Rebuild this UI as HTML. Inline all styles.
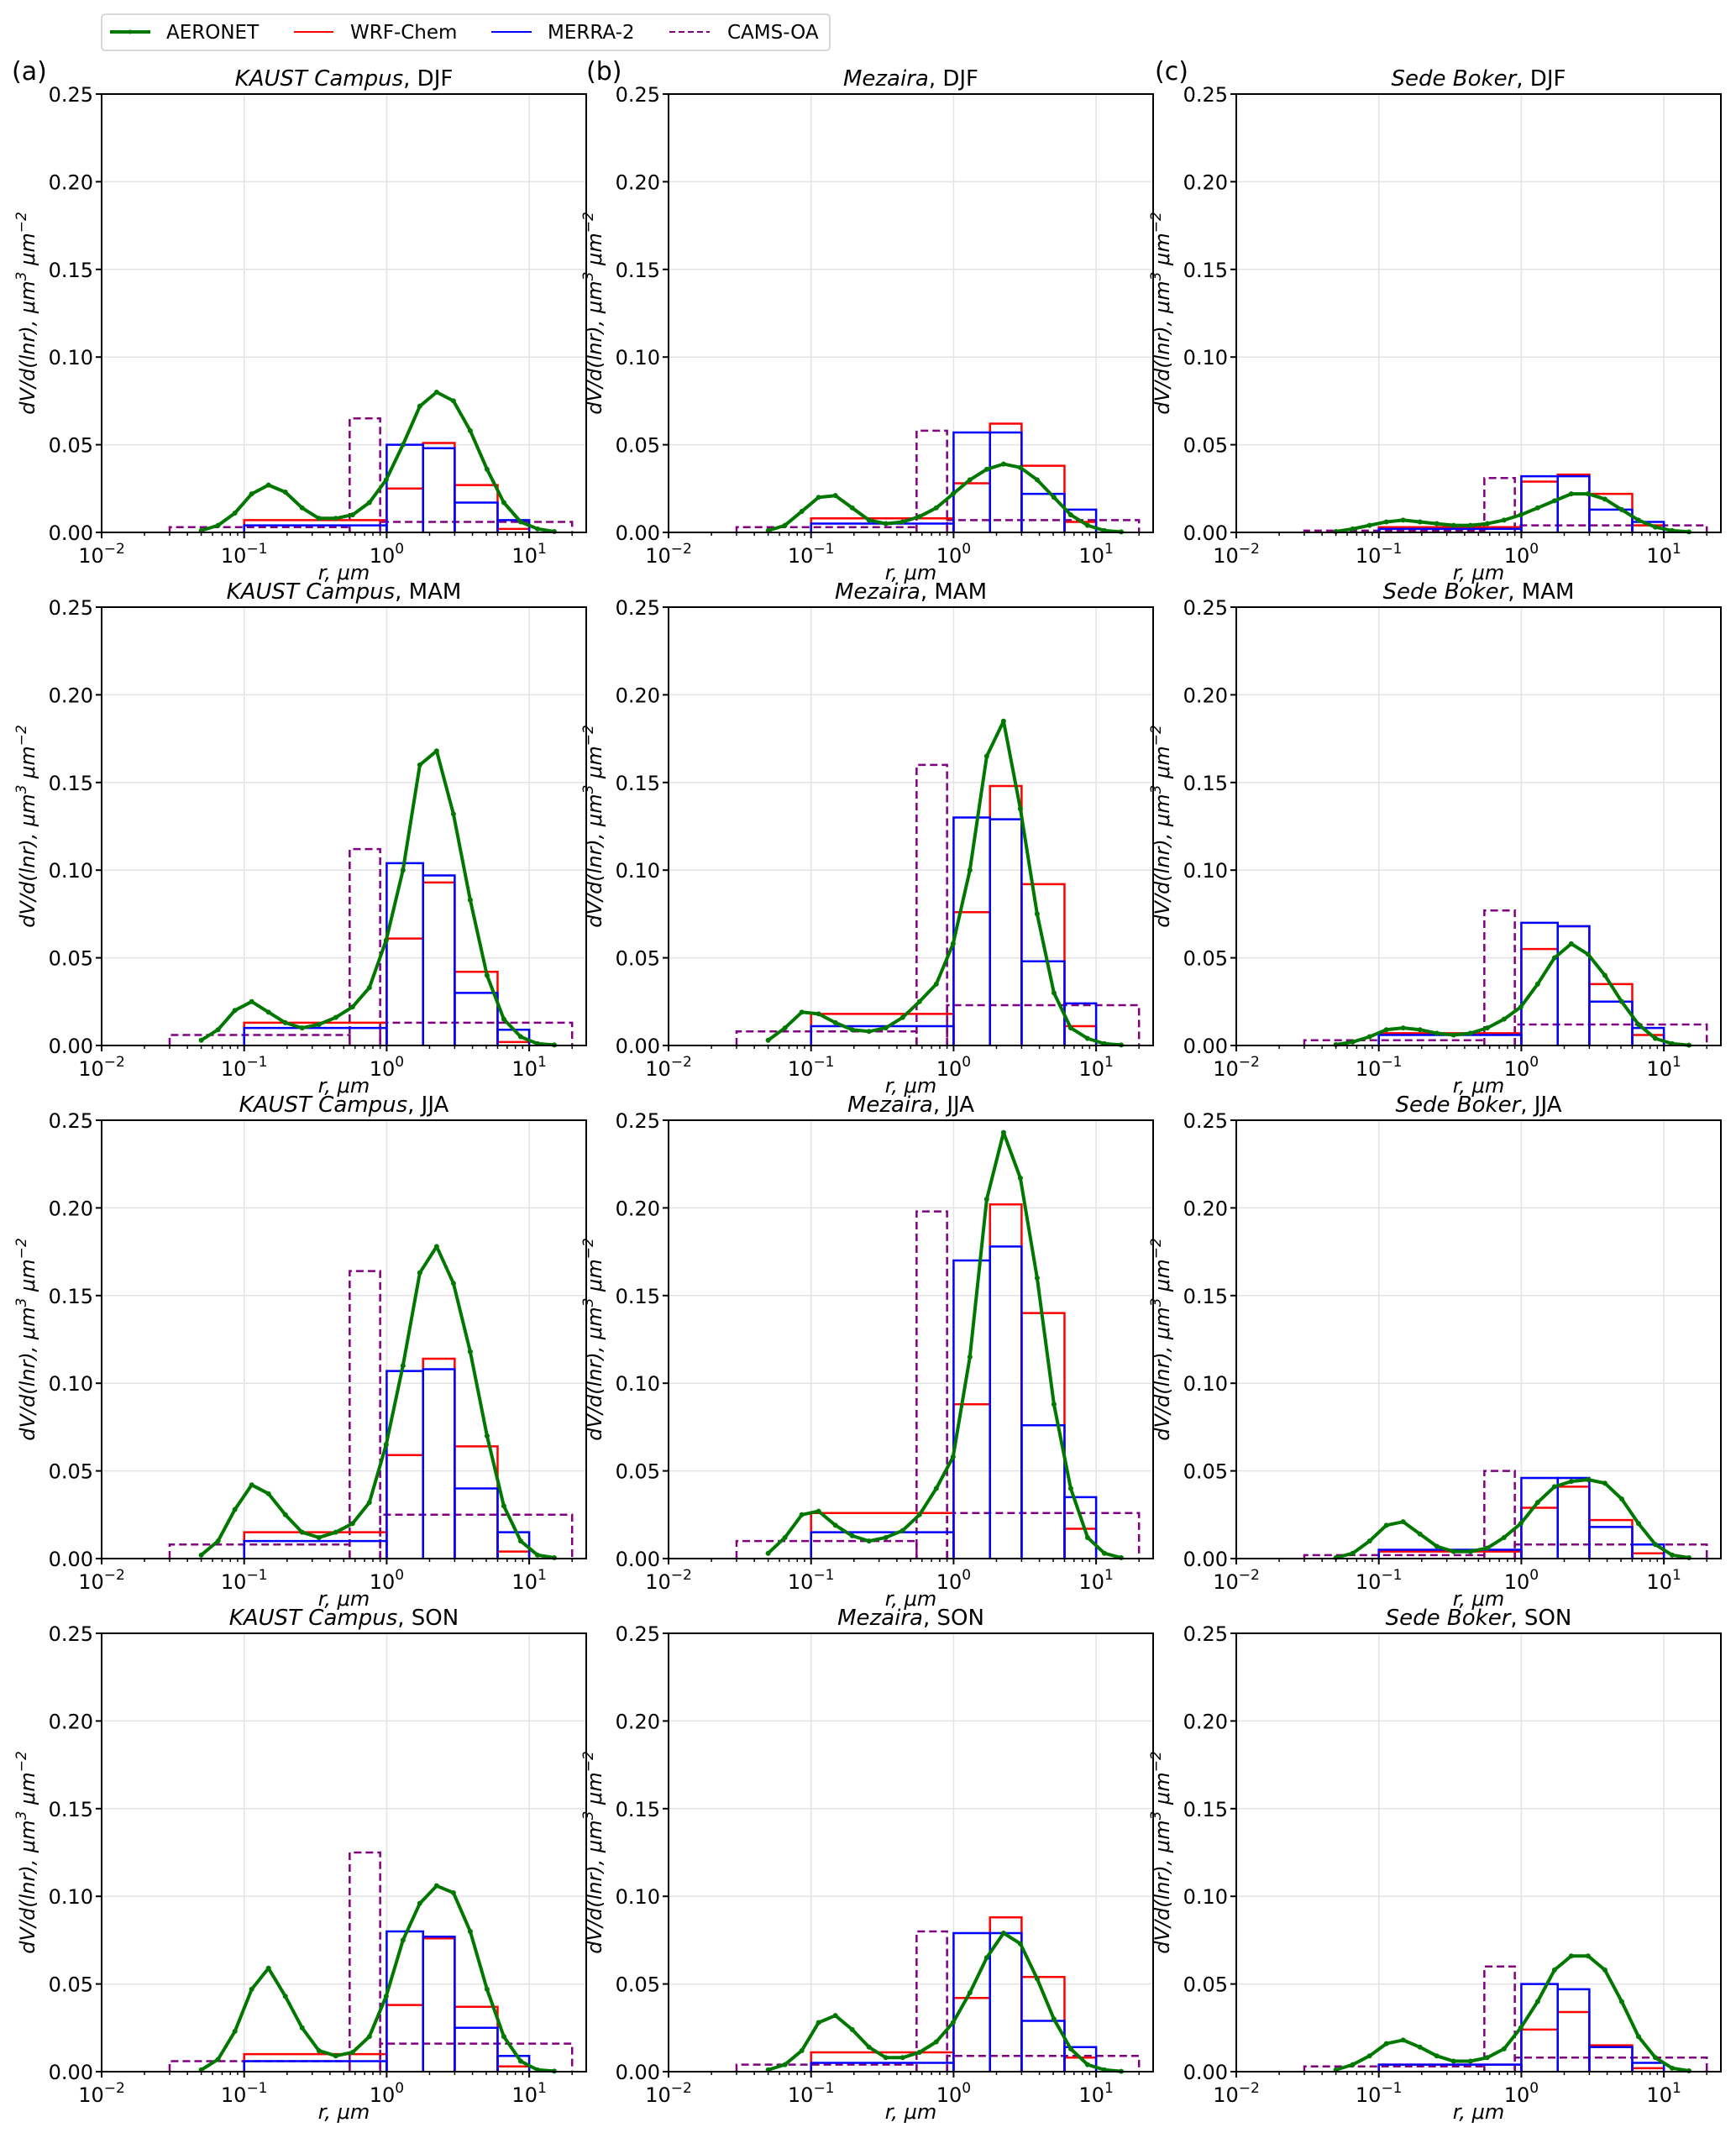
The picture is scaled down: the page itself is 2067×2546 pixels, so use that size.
<!DOCTYPE html>
<html><head><meta charset="utf-8"><style>
html,body{margin:0;padding:0;background:#fff;}
svg{display:block;font-family:"DejaVu Sans","Liberation Sans",sans-serif;}
</style></head><body>
<svg id="fig" width="2067" height="2546" viewBox="0 0 2067 2546" xmlns="http://www.w3.org/2000/svg">
<g>
<rect x="121" y="17" width="867" height="43" rx="4" fill="#fff" stroke="#ccc" stroke-width="1.5"/>
<line x1="131" y1="38" x2="179" y2="38" stroke="#007800" stroke-width="4"/>
<circle cx="155" cy="38" r="2.5" fill="#007800"/>
<text x="198" y="46" font-size="23">AERONET</text>
<line x1="350" y1="38" x2="397" y2="38" stroke="#ff0000" stroke-width="2"/>
<text x="417" y="46" font-size="23">WRF-Chem</text>
<line x1="585" y1="38" x2="633" y2="38" stroke="#0000ff" stroke-width="2"/>
<text x="652" y="46" font-size="23">MERRA-2</text>
<line x1="797" y1="38" x2="845" y2="38" stroke="#800080" stroke-width="2" stroke-dasharray="7,4"/>
<text x="866" y="46" font-size="23">CAMS-OA</text>
</g>
<text x="14" y="95" font-size="30">(a)</text>
<text x="698" y="95" font-size="30">(b)</text>
<text x="1375" y="95" font-size="30">(c)</text>
</svg>
<script>
// ---- data ----
const sites = ["KAUST Campus", "Mezaira", "Sede Boker"];
const seasons = ["DJF", "MAM", "JJA", "SON"];
const aeronetRadii = [0.05,0.065604,0.086077,0.112939,0.148184,0.194429,0.255105,0.334716,0.439173,0.576227,0.756052,0.991996,1.301571,1.707757,2.240702,2.939966,3.857452,5.06126,6.640745,8.713145,11.432287,15.0];
const modelBinEdges = [0.1, 1.0, 1.8, 3.0, 6.0, 10.0];
const camsBinEdges = [0.03, 0.55, 0.9, 20.0];
const yTicks = [0, 0.05, 0.10, 0.15, 0.20, 0.25];
const yTickLabels = ["0.00","0.05","0.10","0.15","0.20","0.25"];
const xTickExps = [-2, -1, 0, 1];
// AERONET series [season][site]
const aeronet = [
 [[0.001,0.004,0.011,0.022,0.027,0.023,0.014,0.008,0.008,0.010,0.017,0.030,0.050,0.072,0.080,0.075,0.058,0.036,0.017,0.006,0.002,0.0005],
  [0.001,0.004,0.012,0.020,0.021,0.014,0.007,0.005,0.006,0.009,0.014,0.022,0.030,0.036,0.039,0.037,0.030,0.020,0.010,0.004,0.001,0.0003],
  [0.0005,0.002,0.004,0.006,0.007,0.006,0.005,0.004,0.004,0.005,0.007,0.010,0.014,0.018,0.022,0.022,0.019,0.013,0.007,0.003,0.001,0.0003]],
 [[0.003,0.009,0.020,0.025,0.019,0.013,0.010,0.012,0.016,0.022,0.033,0.060,0.100,0.160,0.168,0.132,0.083,0.040,0.015,0.005,0.001,0.0003],
  [0.003,0.010,0.019,0.018,0.013,0.009,0.008,0.010,0.016,0.025,0.035,0.058,0.100,0.165,0.185,0.135,0.075,0.030,0.010,0.004,0.001,0.0003],
  [0.0005,0.002,0.005,0.009,0.010,0.009,0.007,0.006,0.007,0.010,0.015,0.022,0.035,0.050,0.058,0.052,0.040,0.025,0.012,0.004,0.001,0.0002]],
 [[0.002,0.010,0.028,0.042,0.037,0.025,0.015,0.012,0.015,0.020,0.032,0.065,0.110,0.163,0.178,0.157,0.118,0.070,0.030,0.010,0.002,0.0005],
  [0.003,0.012,0.025,0.027,0.019,0.013,0.010,0.012,0.016,0.025,0.040,0.058,0.115,0.205,0.243,0.217,0.160,0.088,0.040,0.012,0.003,0.0005],
  [0.0005,0.003,0.010,0.019,0.021,0.014,0.007,0.004,0.004,0.006,0.012,0.020,0.032,0.041,0.044,0.045,0.043,0.034,0.020,0.008,0.002,0.0005]],
 [[0.001,0.007,0.023,0.047,0.059,0.043,0.025,0.012,0.009,0.011,0.020,0.043,0.075,0.096,0.106,0.102,0.080,0.047,0.020,0.006,0.001,0.0003],
  [0.001,0.004,0.012,0.028,0.032,0.024,0.014,0.008,0.008,0.011,0.017,0.028,0.045,0.065,0.079,0.073,0.053,0.030,0.013,0.004,0.001,0.0002],
  [0.001,0.004,0.009,0.016,0.018,0.014,0.009,0.006,0.006,0.008,0.013,0.025,0.040,0.058,0.066,0.066,0.058,0.040,0.020,0.008,0.002,0.0005]]
];
const wrf = [
 [[0.007,0.025,0.051,0.027,0.002],[0.008,0.028,0.062,0.038,0.006],[0.003,0.029,0.033,0.022,0.004]],
 [[0.013,0.061,0.093,0.042,0.002],[0.018,0.076,0.148,0.092,0.011],[0.007,0.055,0.068,0.035,0.006]],
 [[0.015,0.059,0.114,0.064,0.004],[0.026,0.088,0.202,0.140,0.017],[0.004,0.029,0.041,0.022,0.003]],
 [[0.010,0.038,0.076,0.037,0.003],[0.011,0.042,0.088,0.054,0.008],[0.004,0.024,0.034,0.015,0.002]]
];
const merra = [
 [[0.004,0.050,0.048,0.017,0.007],[0.005,0.057,0.057,0.022,0.013],[0.002,0.032,0.032,0.013,0.006]],
 [[0.010,0.104,0.097,0.030,0.009],[0.011,0.130,0.129,0.048,0.024],[0.006,0.070,0.068,0.025,0.010]],
 [[0.010,0.107,0.108,0.040,0.015],[0.015,0.170,0.178,0.076,0.035],[0.005,0.046,0.046,0.018,0.008]],
 [[0.006,0.080,0.077,0.025,0.009],[0.005,0.079,0.079,0.029,0.014],[0.004,0.050,0.047,0.014,0.005]]
];
const cams = [
 [[0.003,0.065,0.006],[0.003,0.058,0.007],[0.001,0.031,0.004]],
 [[0.006,0.112,0.013],[0.008,0.160,0.023],[0.003,0.077,0.012]],
 [[0.008,0.164,0.025],[0.010,0.198,0.026],[0.002,0.050,0.008]],
 [[0.006,0.125,0.016],[0.004,0.080,0.009],[0.003,0.060,0.008]]
];

const NS = "http://www.w3.org/2000/svg";
const svg = document.getElementById("fig");
const colLeft = [121, 796, 1472];
const rowTop0 = 112, rowPitch = 611, plotW = 577, plotH = 522;
const logMin = -2, logMax = 1.4;

function mk(tag, attrs, parent) {
  const e = document.createElementNS(NS, tag);
  for (const k in attrs) e.setAttribute(k, attrs[k]);
  parent.appendChild(e);
  return e;
}

for (let s = 0; s < 4; s++) {
  for (let c = 0; c < 3; c++) {
    const L = colLeft[c], T = rowTop0 + s * rowPitch, B = T + plotH, R = L + plotW;
    const xs = v => L + (Math.log10(v) - logMin) / (logMax - logMin) * plotW;
    const ys = v => B - v / 0.25 * plotH;
    const tag = sites[c].split(" ")[0].toLowerCase() + "-" + seasons[s].toLowerCase();
    const g = mk("g", {}, svg);
    
    
    for (const e of xTickExps) {
      const gl = mk("line", {x1: xs(Math.pow(10, e)), x2: xs(Math.pow(10, e)), y1: T, y2: B, stroke: "#e3e3e3", "stroke-width": 1.5}, g);
      
      
    }
    for (const v of yTicks) {
      const gl = mk("line", {x1: L, x2: R, y1: ys(v), y2: ys(v), stroke: "#e3e3e3", "stroke-width": 1.5}, g);
      
      
    }
    const camsG = mk("g", {fill: "none", stroke: "#800080", "stroke-width": 2.5, "stroke-dasharray": "9,5"}, g);
    
    
    cams[s][c].forEach((v, i) => {
      const x0 = xs(camsBinEdges[i]), x1 = xs(camsBinEdges[i + 1]);
      const p = mk("path", {d: `M${x0},${B}V${ys(v)}H${x1}V${B}`}, camsG);
      
      
    });
    const wrfG = mk("g", {fill: "none", stroke: "#ff0000", "stroke-width": 2.5}, g);
    
    
    wrf[s][c].forEach((v, i) => {
      const x0 = xs(modelBinEdges[i]), x1 = xs(modelBinEdges[i + 1]);
      const p = mk("path", {d: `M${x0},${B}V${ys(v)}H${x1}V${B}`}, wrfG);
      
      
    });
    const merG = mk("g", {fill: "none", stroke: "#0000ff", "stroke-width": 2.5}, g);
    
    
    merra[s][c].forEach((v, i) => {
      const x0 = xs(modelBinEdges[i]), x1 = xs(modelBinEdges[i + 1]);
      const p = mk("path", {d: `M${x0},${B}V${ys(v)}H${x1}V${B}`}, merG);
      
      
    });
    const pts = aeronet[s][c].map((v, i) => xs(aeronetRadii[i]).toFixed(1) + "," + ys(v).toFixed(1)).join(" ");
    const pl = mk("polyline", {points: pts, fill: "none", stroke: "#007800", "stroke-width": 4, "stroke-linejoin": "round"}, g);
    
    
    aeronet[s][c].forEach((v, i) => {
      const m = mk("circle", {cx: xs(aeronetRadii[i]), cy: ys(v), r: 3, fill: "#007800"}, g);
      
      
    });
    const fr = mk("rect", {x: L, y: T, width: plotW, height: plotH, fill: "none", stroke: "#000", "stroke-width": 2}, g);
    
    
    yTicks.forEach((v, i) => {
      const t = mk("line", {x1: L - 7, x2: L, y1: ys(v), y2: ys(v), stroke: "#000", "stroke-width": 2}, g);
      
      
      const tl = mk("text", {x: L - 10, y: ys(v) + 9, "font-size": 24, "text-anchor": "end"}, g);
      tl.textContent = yTickLabels[i];
      
      
    });
    for (let e = -2; e <= 1; e++) {
      for (let m = 1; m <= 9; m++) {
        const v = m * Math.pow(10, e);
        if (Math.log10(v) > logMax) break;
        const x = xs(v);
        const t = mk("line", {x1: x, x2: x, y1: B, y2: B + (m === 1 ? 7 : 4), stroke: "#000", "stroke-width": m === 1 ? 2 : 1.5}, g);
        
        
      }
    }
    xTickExps.forEach(e => {
      const tl = mk("text", {x: xs(Math.pow(10, e)), y: B + 36, "font-size": 24, "text-anchor": "middle"}, g);
      
      
      const a = mk("tspan", {}, tl); a.textContent = "10";
      const b = mk("tspan", {dy: -11, "font-size": 17}, tl); b.textContent = e < 0 ? "\u2212" + (-e) : String(e);
    });
    const ti = mk("text", {x: L + plotW / 2, y: T - 10, "font-size": 26, "text-anchor": "middle"}, g);
    
    
    const it = mk("tspan", {"font-style": "italic"}, ti); it.textContent = sites[c];
    const rest = mk("tspan", {}, ti); rest.textContent = ", " + seasons[s];
    const xl = mk("text", {x: L + plotW / 2, y: B + 56, "font-size": 24, "text-anchor": "middle", "font-style": "italic"}, g);
    xl.textContent = "r, \u03bcm";
    
    
    const yl = mk("text", {transform: `translate(${L - 80},${T + plotH / 2}) rotate(-90)`, "font-size": 24, "text-anchor": "middle", "font-style": "italic"}, g);
    
    
    const y1 = mk("tspan", {}, yl); y1.textContent = "dV/d(lnr), \u03bcm";
    const y2 = mk("tspan", {dy: -10, "font-size": 17}, yl); y2.textContent = "3";
    const y3 = mk("tspan", {dy: 10}, yl); y3.textContent = " \u03bcm";
    const y4 = mk("tspan", {dy: -10, "font-size": 17}, yl); y4.textContent = "\u22122";
  }
}
</script>
</body></html>
